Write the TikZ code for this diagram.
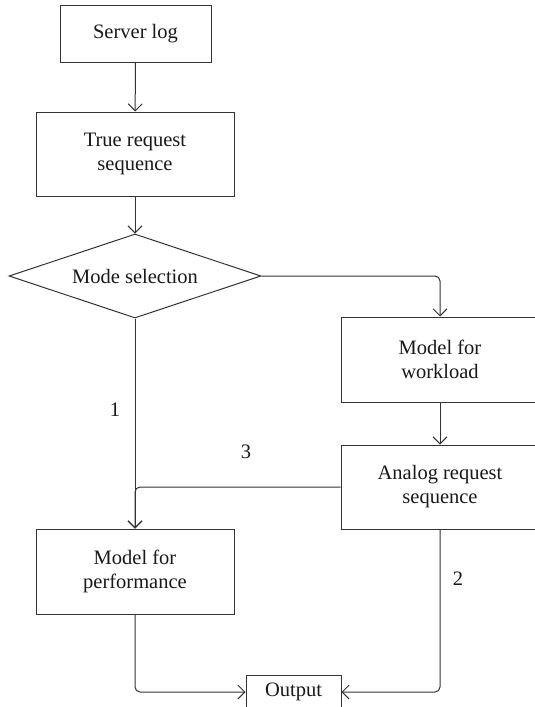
\documentclass[tikz,border=0pt]{standalone}
\usepackage{fontspec}
\setmainfont{Liberation Serif}
\usetikzlibrary{shapes.geometric,arrows.meta}
\begin{document}
\begin{tikzpicture}[x=1pt,y=-1pt,
  every node/.style={font=\fontsize{20.5}{24}\selectfont, text=black!90},
  box/.style={draw=black!80, line width=1pt, rectangle, inner sep=0pt, align=center},
  conn/.style={draw=black!80, line width=1pt, rounded corners=5pt},
  arr/.style={conn, -{Straight Barb[length=7pt,width=14pt,line width=1pt]}},
  numlabel/.style={inner sep=0pt}
]
\clip (0,0) rectangle (535,707);
\useasboundingbox (0,0) rectangle (535,707);
\node[box, minimum width=151, minimum height=57] (server) at (135.5,33.5) {Server log};
\node[box, minimum width=198, minimum height=84] (true) at (135,154) {True request\\sequence};
\node[draw=black!80, line width=1pt, shape=diamond, inner sep=0pt, aspect=3, minimum width=252, minimum height=84] (mode) at (135,276) {Mode selection};
\node[box, minimum width=198, minimum height=85] (work) at (440,359.5) {Model for\\workload};
\node[box, minimum width=198, minimum height=84] (analog) at (440,487) {Analog request\\sequence};
\node[box, minimum width=198, minimum height=85] (perf) at (135,571.5) {Model for\\performance};
\node[box, minimum width=95, minimum height=34] (out) at (293.5,692) {Output};
\coordinate (c1) at (440,276);
\coordinate (c3) at (135,487);
\coordinate (c4) at (135,692);
\coordinate (c5) at (440,692);
\draw[arr] (server) -- (true);
\draw[arr] (true) -- (mode);
\draw[arr] (mode.east) -- (c1) -- (work.north);
\draw[arr] (mode.south) -- (perf.north);
\draw[arr] (work) -- (analog);
\draw[arr] (analog.west) -- (c3) -- (perf.north);
\draw[arr] (perf.south) -- (c4) -- (out.west);
\draw[arr] (analog.south) -- (c5) -- (out.east);
\node[numlabel] (l1) at (115,410) {1};
\node[numlabel] (l3) at (246,452) {3};
\node[numlabel] (l2) at (458,579) {2};
\end{tikzpicture}
\end{document}
